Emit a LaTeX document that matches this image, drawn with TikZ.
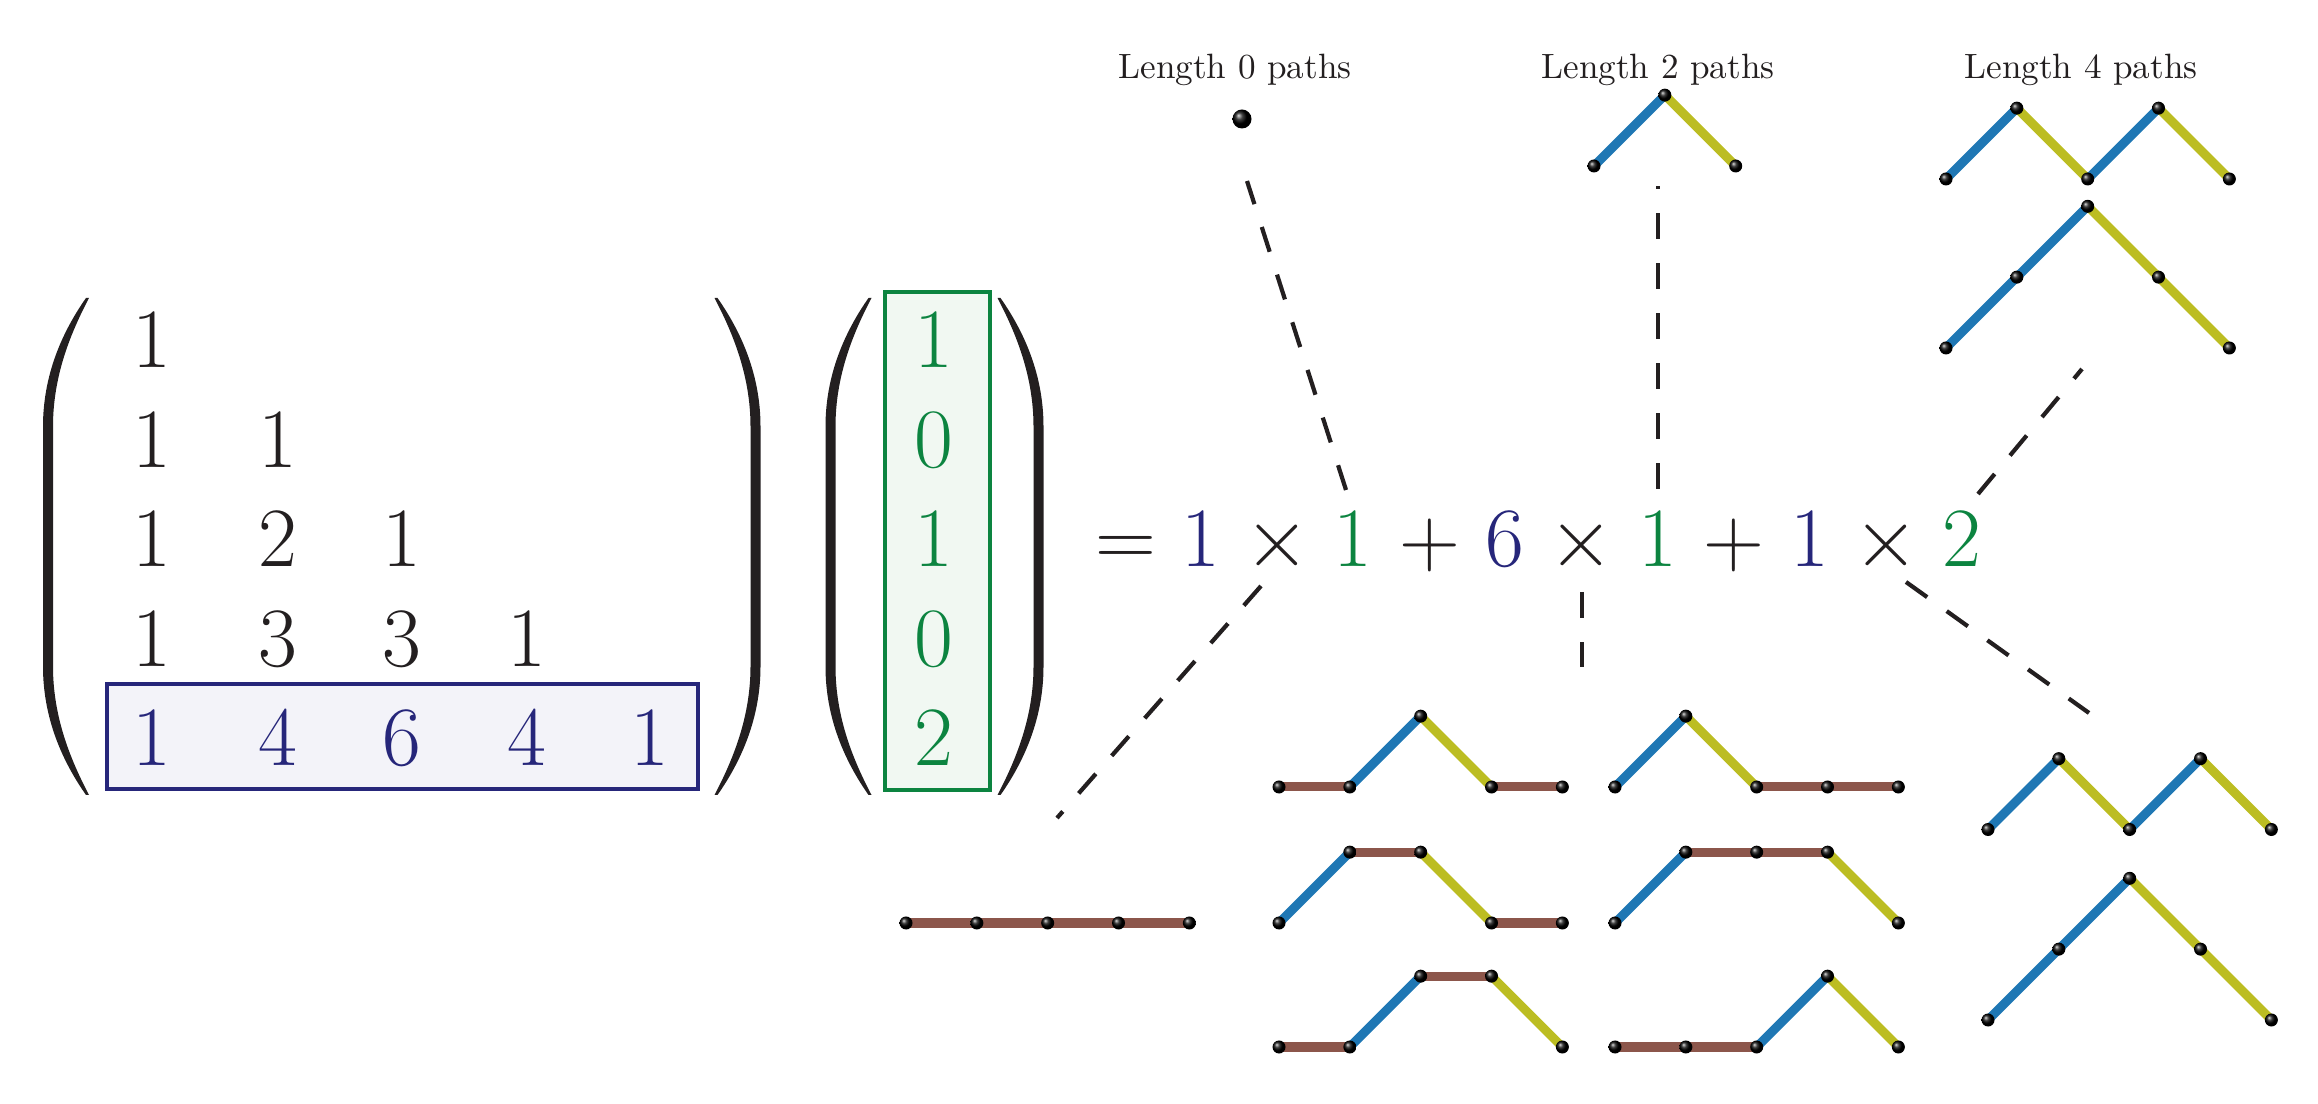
\RequirePackage{fix-cm}
\documentclass[tikz,border=0pt]{standalone}
\definecolor{navyc}{RGB}{38,38,122}
\definecolor{grnc}{RGB}{12,132,64}
\definecolor{tblue}{RGB}{31,119,180}
\definecolor{tolive}{RGB}{188,189,34}
\definecolor{tbrown}{RGB}{140,86,75}
\definecolor{navyfill}{RGB}{243,243,249}
\definecolor{grnfill}{RGB}{241,248,242}
\definecolor{inkc}{RGB}{35,31,32}
\newcommand\latpath[1]{%
  \gdef\lpPrevX{}%
  \foreach \lpx/\lpy in {#1}{%
    \ifx\lpPrevX\empty\else
      \ifdim\lpy pt>\lpPrevY pt\relax
        \draw[stepup] (\lpPrevX,\lpPrevY) -- (\lpx,\lpy);%
      \else\ifdim\lpy pt<\lpPrevY pt\relax
        \draw[stepdown] (\lpPrevX,\lpPrevY) -- (\lpx,\lpy);%
      \else
        \draw[stepflat] (\lpPrevX,\lpPrevY) -- (\lpx,\lpy);%
      \fi\fi
    \fi
    \xdef\lpPrevX{\lpx}\xdef\lpPrevY{\lpy}%
  }%
  \foreach \lpx/\lpy in {#1}{\shade[latdot] (\lpx,\lpy) circle[radius=0.065cm];}%
}
\begin{document}
\begin{tikzpicture}[x=0.01cm,y=-0.01cm,
  mentry/.style={font=\fontsize{24}{28}\selectfont, inner sep=0pt, anchor=base, text=inkc},
  navyentry/.style={mentry, text=navyc},
  grnentry/.style={mentry, text=grnc},
  parenshape/.style={fill=inkc, draw=none},
  lparen/.pic={\fill[parenshape] (21.5,-248.5) .. controls (-2,-215) and (-21.5,-172) .. (-21.5,-120)
      -- (-21.5,120) .. controls (-21.5,172) and (-2,215) .. (21.5,248.5)
      -- (24.5,248.5) .. controls (7,215) and (-11.5,172) .. (-11.5,120)
      -- (-11.5,-120) .. controls (-11.5,-172) and (7,-215) .. (24.5,-248.5) -- cycle;},
  stepup/.style={draw=tblue, line width=0.09cm},
  stepdown/.style={draw=tolive, line width=0.09cm},
  stepflat/.style={draw=tbrown, line width=0.09cm},
  latdot/.style={ball color=black},
  conn/.style={draw=inkc, line width=0.042cm, dash pattern=on 0.26cm off 0.24cm},
  lbl/.style={font=\fontsize{10}{12}\selectfont, inner sep=0pt, anchor=base, text=inkc},
  rowbox/.style={draw=navyc, fill=navyfill, line width=0.037cm},
  colbox/.style={draw=grnc, fill=grnfill, line width=0.037cm}]
\useasboundingbox (0,0) rectangle (2318,1104);

% boxes
\draw[rowbox] (107,684) rectangle (698,789);
\draw[colbox] (885,292) rectangle (990,790);

% parentheses
\pic (lpA) at (64.5,546.5) {lparen};
\pic[xscale=-1] (rpA) at (739,546.5) {lparen};
\pic (lpB) at (847,546.5) {lparen};
\pic[xscale=-1] (rpB) at (1022,546.5) {lparen};

% matrix entries
\node[mentry] (m11) at (152,367.5) {$1$};
\node[mentry] (m21) at (152,467.5) {$1$};
\node[mentry] (m22) at (278,467.5) {$1$};
\node[mentry] (m31) at (152,567) {$1$};
\node[mentry] (m32) at (278,567) {$2$};
\node[mentry] (m33) at (402,567) {$1$};
\node[mentry] (m41) at (152,666.5) {$1$};
\node[mentry] (m42) at (278,666.5) {$3$};
\node[mentry] (m43) at (402,666.5) {$3$};
\node[mentry] (m44) at (527,666.5) {$1$};
\node[navyentry] (m51) at (152,766) {$1$};
\node[navyentry] (m52) at (278,766) {$4$};
\node[navyentry] (m53) at (402,766) {$6$};
\node[navyentry] (m54) at (527,766) {$4$};
\node[navyentry] (m55) at (650,766) {$1$};

% vector entries
\node[grnentry] (v1) at (934,367.5) {$1$};
\node[grnentry] (v2) at (934,467.5) {$0$};
\node[grnentry] (v3) at (934,567) {$1$};
\node[grnentry] (v4) at (934,666.5) {$0$};
\node[grnentry] (v5) at (934,766) {$2$};

% equation
\node[mentry] (eqEq) at (1126,567) {$=$};
\node[navyentry] (eqA1) at (1201,567) {$1$};
\node[mentry] (eqT1) at (1277,567) {$\times$};
\node[grnentry] (eqB1) at (1353,567) {$1$};
\node[mentry] (eqP1) at (1430,567) {$+$};
\node[navyentry] (eqA2) at (1504.5,567) {$6$};
\node[mentry] (eqT2) at (1581,567) {$\times$};
\node[grnentry] (eqB2) at (1658,567) {$1$};
\node[mentry] (eqP2) at (1734,567) {$+$};
\node[navyentry] (eqA3) at (1810,567) {$1$};
\node[mentry] (eqT3) at (1886,567) {$\times$};
\node[grnentry] (eqB3) at (1962,567) {$2$};

% labels
\node[lbl] (lab0) at (1235,79) {Length 0 paths};
\node[lbl] (lab2) at (1658,79) {Length 2 paths};
\node[lbl] (lab4) at (2081,79) {Length 4 paths};

% connectors
\coordinate (c0s) at (1346,490); \coordinate (c0e) at (1247,181);
\coordinate (c2s) at (1658,489); \coordinate (c2e) at (1658,186);
\coordinate (c4s) at (1978,494); \coordinate (c4e) at (2082,369);
\coordinate (d0s) at (1261,586); \coordinate (d0e) at (1057,818);
\coordinate (d6s) at (1582,592); \coordinate (d6e) at (1582,667);
\coordinate (d1s) at (1906,582); \coordinate (d1e) at (2089,713);
\draw[conn] (c0s) -- (c0e);
\draw[conn] (c2s) -- (c2e);
\draw[conn] (c4s) -- (c4e);
\draw[conn] (d0s) -- (d0e);
\draw[conn] (d6s) -- (d6e);
\draw[conn] (d1s) -- (d1e);

% length 0 path
\coordinate (p0) at (1242,119);
\shade[latdot] (p0) circle[radius=0.095cm];

% length 2 path
\begin{scope}[shift={(1594,166)}, x=0.708cm, y=0.708cm]
\latpath{0/0,1/1,2/0}
\end{scope}
% length 4 paths (top)
\begin{scope}[shift={(1946,179)}, x=0.708cm, y=0.708cm]
\latpath{0/0,1/1,2/0,3/1,4/0}
\end{scope}
\begin{scope}[shift={(1946,348)}, x=0.708cm, y=0.708cm]
\latpath{0/0,1/1,2/2,3/1,4/0}
\end{scope}

% bottom: 1 flat path
\begin{scope}[shift={(906,923)}, x=0.708cm, y=0.708cm]
\latpath{0/0,1/0,2/0,3/0,4/0}
\end{scope}
% bottom: 6 paths
\begin{scope}[shift={(1279,787)}, x=0.708cm, y=0.708cm]
\latpath{0/0,1/0,2/1,3/0,4/0}
\end{scope}
\begin{scope}[shift={(1279,923)}, x=0.708cm, y=0.708cm]
\latpath{0/0,1/1,2/1,3/0,4/0}
\end{scope}
\begin{scope}[shift={(1279,1047)}, x=0.708cm, y=0.708cm]
\latpath{0/0,1/0,2/1,3/1,4/0}
\end{scope}
\begin{scope}[shift={(1615,787)}, x=0.708cm, y=0.708cm]
\latpath{0/0,1/1,2/0,3/0,4/0}
\end{scope}
\begin{scope}[shift={(1615,923)}, x=0.708cm, y=0.708cm]
\latpath{0/0,1/1,2/1,3/1,4/0}
\end{scope}
\begin{scope}[shift={(1615,1047)}, x=0.708cm, y=0.708cm]
\latpath{0/0,1/0,2/0,3/1,4/0}
\end{scope}
% bottom: 2 Dyck paths
\begin{scope}[shift={(1988,829.5)}, x=0.708cm, y=0.708cm]
\latpath{0/0,1/1,2/0,3/1,4/0}
\end{scope}
\begin{scope}[shift={(1988,1020)}, x=0.708cm, y=0.708cm]
\latpath{0/0,1/1,2/2,3/1,4/0}
\end{scope}
\end{tikzpicture}
\end{document}
